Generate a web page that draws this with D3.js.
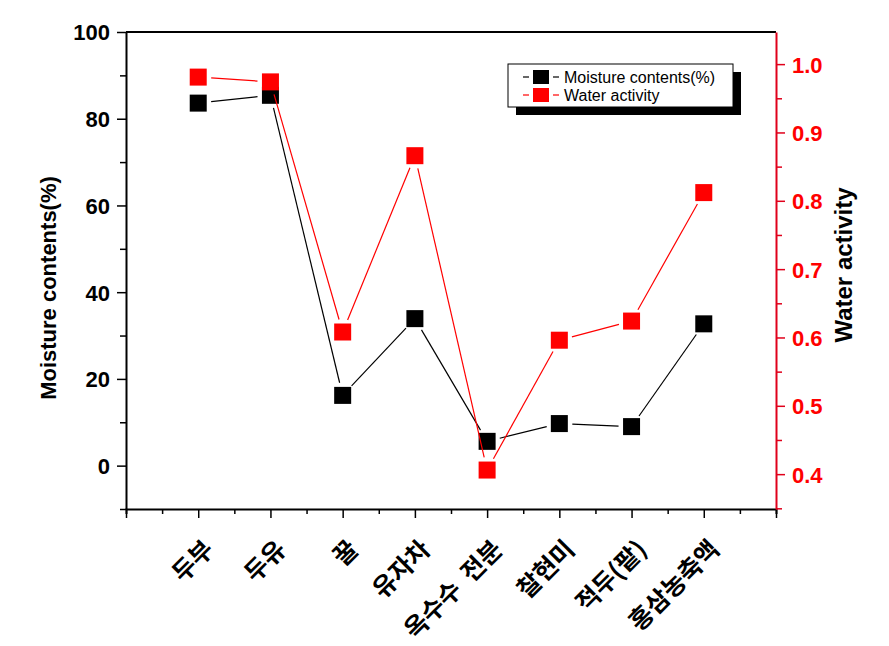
<!DOCTYPE html>
<html><head><meta charset="utf-8">
<script src="https://cdn.jsdelivr.net/npm/d3@7"></script>
<style>body{margin:0;background:#fff}svg{display:block}</style>
</head><body>
<svg id="c" width="889" height="646"></svg>
<script>
const categories = ["두부","두유","꿀","유자차","옥수수 전분","찰현미","적두(팥)","홍삼농축액"];
const moisture = [83.6, 85.4, 16.2, 33.9, 5.6, 9.7, 9.0, 32.7];
const waterActivity = [0.981, 0.974, 0.608, 0.866, 0.406, 0.596, 0.624, 0.812];
const leftTicks = [0, 20, 40, 60, 80, 100];
const rightTicks = [0.4, 0.5, 0.6, 0.7, 0.8, 0.9, 1.0];
const seriesNames = ["Moisture contents(%)", "Water activity"];

const svg = d3.select("#c");
const L = 126, R = 776, T = 32, B = 509;
const x = d3.scaleLinear().domain([0, categories.length + 1]).range([L, R]);
const yL = d3.scaleLinear().domain([-10, 100]).range([B, T]);
const yR = d3.scaleLinear().domain([0.349, 1.047]).range([B, T]);
const RED = "#ff0000", AXRED = "#e0001b";
const FONT = "Arial, 'Liberation Sans', sans-serif";

// frame top line
svg.append("line").attr("x1", L).attr("x2", R).attr("y1", T).attr("y2", T).attr("stroke", "#000").attr("stroke-width", 2);

// bottom axis
const xMinor = d3.range(0, categories.length + 1.01, 0.5);
const gx = svg.append("g").attr("transform", `translate(0,${B})`);
gx.call(d3.axisBottom(x).tickValues(xMinor).tickFormat("").tickSizeOuter(0).tickSize(5));
gx.selectAll(".tick line").attr("y2", d => Number.isInteger(d) ? 9 : 5).attr("stroke-width", 1.5);
gx.select(".domain").attr("stroke-width", 2);

// left axis
const gl = svg.append("g").attr("transform", `translate(${L},0)`);
gl.call(d3.axisLeft(yL).tickValues(d3.range(-10, 100.1, 10)).tickSizeOuter(0)
  .tickFormat(d => leftTicks.includes(d) ? d : ""));
gl.selectAll(".tick line").attr("x2", d => leftTicks.includes(d) ? -9 : -6).attr("stroke-width", 1.5);
gl.select(".domain").attr("stroke-width", 2);
gl.selectAll(".tick text").attr("x", -16).attr("dy", "0.36em").attr("font-family", FONT).attr("font-weight", "bold").attr("font-size", 22).attr("fill", "#000");

// right axis
const gr = svg.append("g").attr("transform", `translate(${R},0)`);
const rAll = d3.range(0.35, 1.046, 0.05).map(v => +v.toFixed(2));
gr.call(d3.axisRight(yR).tickValues(rAll).tickSizeOuter(0)
  .tickFormat(d => rightTicks.some(t => Math.abs(t - d) < 1e-6) ? d3.format(".1f")(d) : ""));
gr.selectAll(".tick line").attr("x2", d => rightTicks.some(t => Math.abs(t - d) < 1e-6) ? 9 : 6).attr("stroke", AXRED).attr("stroke-width", 1.5);
gr.select(".domain").attr("stroke", AXRED).attr("stroke-width", 2);
gr.selectAll(".tick text").attr("x", 16).attr("dy", "0.36em").attr("font-family", FONT).attr("font-weight", "bold").attr("font-size", 22).attr("fill", RED);

// x labels
svg.append("g").selectAll("text").data(categories).join("text")
  .attr("transform", (d, i) => `translate(${x(i + 1) + 17},${B + 42}) rotate(-45)`)
  .attr("text-anchor", "end")
  .attr("font-family", "'Noto Sans CJK KR', sans-serif").attr("font-weight", "bold").attr("font-size", 25)
  .attr("xml:space", "preserve").style("white-space", "pre")
  .text(d => d.replace(" ", "  "));

// axis titles
svg.append("text").attr("transform", `translate(56,288) rotate(-90)`)
  .attr("text-anchor", "middle").attr("font-family", FONT).attr("font-weight", "bold").attr("font-size", 22)
  .text("Moisture contents(%)");
svg.append("text").attr("transform", `translate(852,265) rotate(-90)`)
  .attr("text-anchor", "middle").attr("font-family", FONT).attr("font-weight", "bold").attr("font-size", 24)
  .text("Water activity");

// series with gaps around markers
function drawSeries(vals, ys, color) {
  const pts = vals.map((v, i) => [x(i + 1), ys(v)]);
  const gap = 13;
  const g = svg.append("g");
  for (let i = 0; i < pts.length - 1; i++) {
    const [x1, y1] = pts[i], [x2, y2] = pts[i + 1];
    const dx = x2 - x1, dy = y2 - y1, len = Math.hypot(dx, dy);
    if (len <= 2 * gap) continue;
    const ux = dx / len, uy = dy / len;
    g.append("line").attr("x1", x1 + ux * gap).attr("y1", y1 + uy * gap)
      .attr("x2", x2 - ux * gap).attr("y2", y2 - uy * gap)
      .attr("stroke", color).attr("stroke-width", 1.2);
  }
  const s = 17;
  g.selectAll("rect").data(pts).join("rect")
    .attr("x", d => d[0] - s / 2).attr("y", d => d[1] - s / 2)
    .attr("width", s).attr("height", s).attr("fill", color);
}
drawSeries(moisture, yL, "#000");
drawSeries(waterActivity, yR, RED);

// legend
const lg = svg.append("g");
lg.append("rect").attr("x", 516).attr("y", 72).attr("width", 225).attr("height", 43).attr("fill", "#000");
lg.append("rect").attr("x", 508).attr("y", 64).attr("width", 225).attr("height", 43).attr("fill", "#fff").attr("stroke", "#000").attr("stroke-width", 1);
[["#000", 77], [RED, 95]].forEach(([c, yy], i) => {
  lg.append("line").attr("x1", 523).attr("x2", 529).attr("y1", yy).attr("y2", yy).attr("stroke", c).attr("stroke-width", 1.2);
  lg.append("line").attr("x1", 553).attr("x2", 559).attr("y1", yy).attr("y2", yy).attr("stroke", c).attr("stroke-width", 1.2);
  lg.append("rect").attr("x", 533).attr("y", yy - 7).attr("width", 16).attr("height", 14).attr("fill", c);
  lg.append("text").attr("x", 564).attr("y", yy + 5.5).attr("font-family", FONT).attr("font-size", 16).text(seriesNames[i]);
});
</script>
</body></html>
